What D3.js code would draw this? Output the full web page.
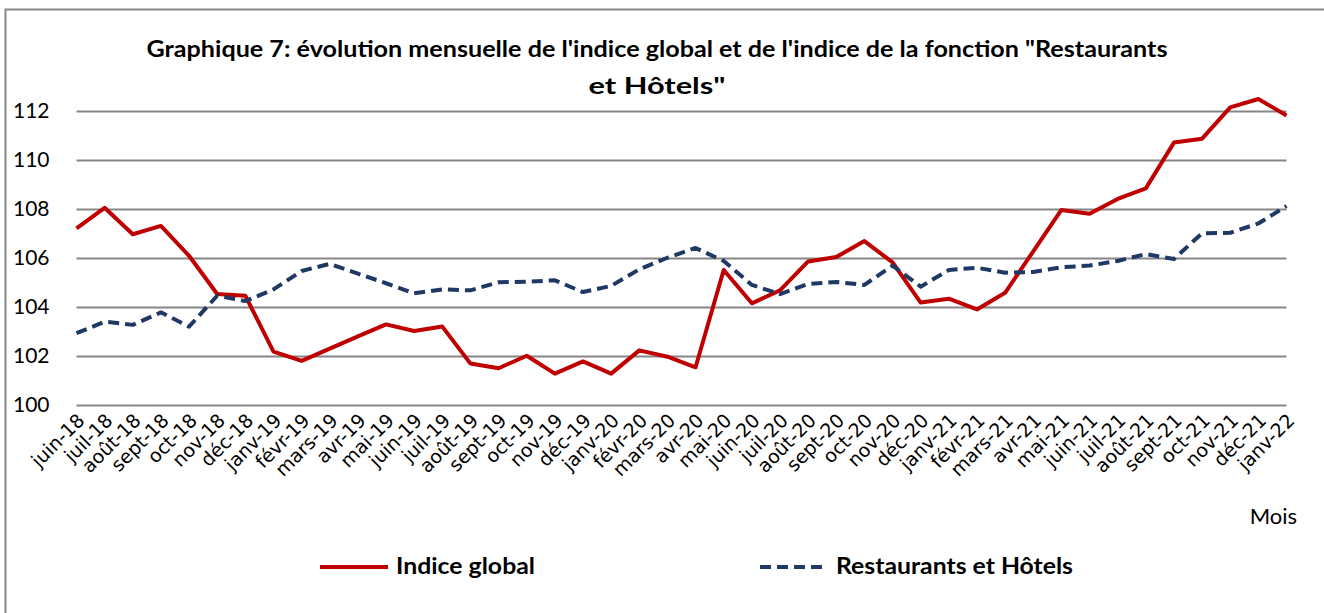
<!DOCTYPE html>
<html>
<head>
<meta charset="utf-8">
<script src="https://cdn.jsdelivr.net/npm/d3@7"></script>
<style>
  body { margin: 0; background: #fff; }
  svg { display: block; }
</style>
</head>
<body>
<svg id="chart" width="1324" height="613"></svg>
<script>
// months on the x axis
const months = [
  "juin-18","juil-18","août-18","sept-18","oct-18","nov-18","déc-18",
  "janv-19","févr-19","mars-19","avr-19","mai-19","juin-19","juil-19","août-19","sept-19","oct-19","nov-19","déc-19",
  "janv-20","févr-20","mars-20","avr-20","mai-20","juin-20","juil-20","août-20","sept-20","oct-20","nov-20","déc-20",
  "janv-21","févr-21","mars-21","avr-21","mai-21","juin-21","juil-21","août-21","sept-21","oct-21","nov-21","déc-21",
  "janv-22"
];

const indiceGlobal = [
  107.21, 108.05, 106.97, 107.31, 106.09, 104.53, 104.46,
  102.18, 101.80, 102.30, 102.80, 103.29, 103.02, 103.20, 101.69, 101.50, 102.01, 101.28, 101.78,
  101.28, 102.23, 101.97, 101.54, 105.51, 104.15, 104.68, 105.86, 106.04, 106.69, 105.82, 104.18,
  104.34, 103.90, 104.58, 106.27, 107.96, 107.81, 108.41, 108.84, 110.71, 110.87, 112.15, 112.49,
  111.82
];

const restaurantsHotels = [
  102.93, 103.40, 103.27, 103.78, 103.20, 104.46, 104.24,
  104.72, 105.47, 105.76, 105.36, 104.97, 104.56, 104.72, 104.68, 105.01, 105.03, 105.09, 104.61,
  104.86, 105.54, 106.01, 106.41, 105.88, 104.90, 104.53, 104.94, 105.02, 104.90, 105.69, 104.83,
  105.51, 105.60, 105.40, 105.43, 105.62, 105.69, 105.88, 106.16, 105.96, 107.01, 107.03, 107.41,
  108.12
];

const yTicks = [100, 102, 104, 106, 108, 110, 112];

const titleLines = [
  "Graphique 7: évolution mensuelle de l'indice global et de l'indice de la fonction \"Restaurants",
  "et Hôtels\""
];

const series = [
  { name: "Indice global", values: indiceGlobal, color: "#c00000", dash: null },
  { name: "Restaurants et Hôtels", values: restaurantsHotels, color: "#1f3864", dash: "11,6" }
];

const svg = d3.select("#chart");
const W = 1324, H = 613;

// outer frame
svg.append("rect")
  .attr("x", 5.5).attr("y", 9.5)
  .attr("width", W).attr("height", H)
  .attr("fill", "#fff")
  .attr("stroke", "#868686")
  .attr("stroke-width", 2);

const x = d3.scalePoint().domain(months).range([76.5, 1286.5]);
const y = d3.scaleLinear().domain([100, 112]).range([405, 111]);

// gridlines + y labels
const yAxis = svg.append("g")
  .attr("transform", "translate(76.5,0)")
  .call(d3.axisLeft(y).tickValues(yTicks).tickSize(-1210).tickFormat(d3.format("d")));
yAxis.select(".domain").remove();
yAxis.selectAll("line").attr("stroke", "#868686").attr("stroke-width", 2);
yAxis.selectAll("text")
  .attr("x", -27)
  .attr("fill", "#000")
  .style("font-family", "Lato, 'Open Sans', sans-serif")
  .style("font-size", "21px");

// x labels
const xAxis = svg.append("g")
  .attr("transform", "translate(0,405)")
  .call(d3.axisBottom(x).tickSize(0).tickPadding(0));
xAxis.select(".domain").remove();
xAxis.selectAll("text")
  .attr("fill", "#000")
  .attr("font-family", null)
  .style("font-family", "'DejaVu Sans', Verdana, sans-serif")
  .style("font-size", "19px")
  .attr("text-anchor", "end")
  .attr("dy", "0.35em")
  .attr("transform", "translate(4,12) rotate(-45)")
  .attr("y", 0);

svg.append("text")
  .attr("x", 1297).attr("y", 524)
  .attr("text-anchor", "end")
  .style("font-family", "Lato, 'Open Sans', sans-serif")
  .style("font-size", "22px")
  .text("Mois");

// lines
const line = d3.line()
  .x((d, i) => x(months[i]))
  .y(d => y(d));

series.forEach(s => {
  svg.append("path")
    .datum(s.values)
    .attr("fill", "none")
    .attr("stroke", s.color)
    .attr("stroke-width", 4)
    .attr("stroke-linejoin", "round")
    .attr("stroke-dasharray", s.dash)
    .attr("d", line);
});

// title
svg.selectAll(".title")
  .data(titleLines)
  .enter()
  .append("text")
  .attr("class", "title")
  .attr("x", 657)
  .attr("y", (d, i) => 57 + i * 37)
  .attr("text-anchor", "middle")
  .style("font-family", "Lato, 'Open Sans', sans-serif")
  .style("font-weight", "bold")
  .style("font-size", "22px")
  .attr("textLength", (d, i) => i == 0 ? 1021 : 137)
  .attr("lengthAdjust", "spacingAndGlyphs")
  .text(d => d);

// legend
const legendX = [320, 760];
const legendW = [139, 237];
series.forEach((s, i) => {
  const g = svg.append("g").attr("transform", `translate(${legendX[i]},567)`);
  g.append("line")
    .attr("x1", 0).attr("x2", 68)
    .attr("stroke", s.color)
    .attr("stroke-width", 4)
    .attr("stroke-dasharray", s.dash);
  g.append("text")
    .attr("x", 76).attr("y", 7)
    .style("font-family", "Lato, 'Open Sans', sans-serif")
    .style("font-weight", "bold")
    .style("font-size", "22px")
    .attr("textLength", legendW[i])
    .attr("lengthAdjust", "spacingAndGlyphs")
    .text(s.name);
});
</script>
</body>
</html>
